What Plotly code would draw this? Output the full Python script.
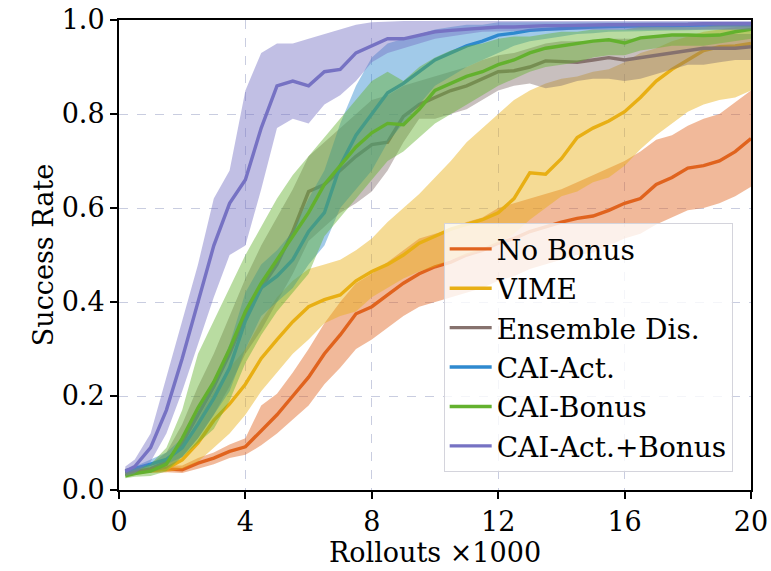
import plotly.graph_objects as go

x = [0.2, 0.5, 1.0, 1.5, 2.0, 2.5, 3.0, 3.5, 4.0, 4.5, 5.0, 5.5, 6.0, 6.5, 7.0, 7.5, 8.0, 8.5, 9.0, 9.5,
     10.0, 10.5, 11.0, 11.5, 12.0, 12.5, 13.0, 13.5, 14.0, 14.5, 15.0, 15.5, 16.0, 16.5, 17.0, 17.5, 18.0,
     18.5, 19.0, 19.5, 20.0]

names = ["No Bonus", "VIME", "Ensemble Dis.", "CAI-Act.", "CAI-Bonus", "CAI-Act.+Bonus"]
colors = ["#E0631E", "#E8AF14", "#86726E", "#2E89CF", "#63B12E", "#7672C3"]

no_bonus_mean = [0.04, 0.04, 0.042, 0.045, 0.043, 0.057, 0.068, 0.082, 0.092, 0.125, 0.16, 0.20, 0.24, 0.29,
                 0.33, 0.375, 0.39, 0.415, 0.44, 0.46, 0.475, 0.485, 0.50, 0.51, 0.525, 0.535, 0.55, 0.56,
                 0.57, 0.578, 0.583, 0.595, 0.61, 0.62, 0.65, 0.665, 0.685, 0.69, 0.70, 0.72, 0.748]
no_bonus_lo = [0.035, 0.035, 0.037, 0.038, 0.036, 0.045, 0.055, 0.068, 0.075, 0.095, 0.12, 0.15, 0.18, 0.225,
               0.26, 0.30, 0.32, 0.345, 0.37, 0.39, 0.40, 0.41, 0.42, 0.43, 0.445, 0.455, 0.47, 0.48, 0.49,
               0.50, 0.505, 0.52, 0.535, 0.545, 0.565, 0.58, 0.595, 0.60, 0.61, 0.625, 0.645]
no_bonus_hi = [0.045, 0.045, 0.047, 0.052, 0.052, 0.068, 0.08, 0.097, 0.11, 0.18, 0.205, 0.25, 0.30, 0.355,
               0.40, 0.44, 0.46, 0.485, 0.51, 0.535, 0.545, 0.555, 0.57, 0.58, 0.60, 0.61, 0.62, 0.63, 0.64,
               0.655, 0.67, 0.685, 0.70, 0.72, 0.745, 0.755, 0.775, 0.79, 0.80, 0.825, 0.85]

vime_mean = [0.04, 0.04, 0.042, 0.045, 0.064, 0.10, 0.148, 0.183, 0.225, 0.28, 0.32, 0.358, 0.39, 0.405,
             0.415, 0.445, 0.465, 0.48, 0.50, 0.525, 0.54, 0.555, 0.565, 0.575, 0.59, 0.62, 0.675, 0.672,
             0.705, 0.75, 0.77, 0.785, 0.805, 0.835, 0.87, 0.895, 0.915, 0.935, 0.943, 0.945, 0.95]
vime_lo = [0.035, 0.035, 0.036, 0.038, 0.045, 0.06, 0.09, 0.12, 0.16, 0.21, 0.25, 0.29, 0.32, 0.355, 0.37,
           0.38, 0.41, 0.43, 0.45, 0.465, 0.475, 0.49, 0.50, 0.51, 0.525, 0.545, 0.575, 0.60, 0.625, 0.635,
           0.655, 0.665, 0.69, 0.725, 0.755, 0.78, 0.805, 0.82, 0.83, 0.835, 0.85]
vime_hi = [0.045, 0.046, 0.05, 0.06, 0.09, 0.15, 0.21, 0.26, 0.30, 0.36, 0.41, 0.445, 0.47, 0.48, 0.49,
           0.51, 0.535, 0.57, 0.60, 0.63, 0.665, 0.70, 0.74, 0.77, 0.80, 0.83, 0.85, 0.865, 0.875, 0.88,
           0.89, 0.895, 0.91, 0.93, 0.94, 0.955, 0.965, 0.975, 0.98, 0.985, 0.99]

ens_mean = [0.035, 0.038, 0.045, 0.06, 0.10, 0.16, 0.22, 0.29, 0.37, 0.43, 0.48, 0.55, 0.635, 0.65, 0.68,
            0.71, 0.735, 0.74, 0.795, 0.82, 0.835, 0.85, 0.86, 0.875, 0.89, 0.892, 0.90, 0.913, 0.912, 0.91,
            0.915, 0.92, 0.915, 0.92, 0.925, 0.93, 0.935, 0.94, 0.94, 0.94, 0.943]
ens_lo = [0.03, 0.033, 0.038, 0.045, 0.07, 0.11, 0.16, 0.22, 0.29, 0.34, 0.40, 0.46, 0.53, 0.56, 0.59, 0.61,
          0.635, 0.68, 0.74, 0.79, 0.79, 0.80, 0.81, 0.83, 0.85, 0.86, 0.865, 0.855, 0.86, 0.87, 0.875,
          0.875, 0.87, 0.875, 0.885, 0.895, 0.905, 0.905, 0.91, 0.915, 0.915]
ens_hi = [0.04, 0.045, 0.055, 0.08, 0.14, 0.22, 0.29, 0.37, 0.45, 0.52, 0.58, 0.64, 0.71, 0.74, 0.77, 0.80,
          0.83, 0.84, 0.86, 0.87, 0.88, 0.89, 0.90, 0.915, 0.925, 0.93, 0.94, 0.95, 0.955, 0.955, 0.955,
          0.96, 0.96, 0.96, 0.965, 0.965, 0.97, 0.97, 0.97, 0.97, 0.97]

act_mean = [0.04, 0.045, 0.055, 0.065, 0.09, 0.14, 0.195, 0.26, 0.36, 0.43, 0.455, 0.49, 0.55, 0.59, 0.69,
            0.755, 0.80, 0.845, 0.865, 0.89, 0.915, 0.93, 0.945, 0.955, 0.968, 0.972, 0.978, 0.98, 0.982,
            0.984, 0.985, 0.986, 0.987, 0.987, 0.988, 0.988, 0.989, 0.99, 0.99, 0.99, 0.99]
act_lo = [0.035, 0.04, 0.048, 0.055, 0.07, 0.11, 0.16, 0.21, 0.30, 0.37, 0.40, 0.43, 0.48, 0.52, 0.60, 0.64,
          0.68, 0.74, 0.78, 0.82, 0.86, 0.88, 0.90, 0.915, 0.93, 0.945, 0.955, 0.96, 0.965, 0.97, 0.972,
          0.975, 0.975, 0.976, 0.977, 0.978, 0.978, 0.979, 0.98, 0.98, 0.98]
act_hi = [0.045, 0.05, 0.065, 0.08, 0.11, 0.17, 0.23, 0.31, 0.42, 0.48, 0.51, 0.55, 0.62, 0.68, 0.78, 0.86,
          0.92, 0.95, 0.96, 0.97, 0.98, 0.985, 0.99, 0.99, 0.995, 0.995, 0.995, 0.995, 0.995, 0.995, 0.995,
          0.995, 0.995, 0.995, 0.995, 0.995, 0.995, 0.995, 0.995, 0.995, 0.995]

bonus_mean = [0.03, 0.035, 0.04, 0.055, 0.11, 0.175, 0.23, 0.30, 0.38, 0.44, 0.49, 0.54, 0.59, 0.65, 0.69,
              0.73, 0.76, 0.78, 0.777, 0.81, 0.85, 0.865, 0.88, 0.89, 0.905, 0.915, 0.93, 0.94, 0.945, 0.95,
              0.955, 0.958, 0.951, 0.962, 0.965, 0.968, 0.968, 0.967, 0.968, 0.975, 0.98]
bonus_lo = [0.025, 0.028, 0.03, 0.04, 0.07, 0.10, 0.13, 0.19, 0.27, 0.33, 0.38, 0.42, 0.46, 0.54, 0.58, 0.62,
            0.66, 0.70, 0.72, 0.75, 0.78, 0.80, 0.82, 0.84, 0.86, 0.875, 0.89, 0.90, 0.905, 0.91, 0.92,
            0.925, 0.925, 0.935, 0.94, 0.945, 0.945, 0.945, 0.95, 0.955, 0.96]
bonus_hi = [0.04, 0.045, 0.055, 0.09, 0.17, 0.29, 0.36, 0.43, 0.50, 0.56, 0.62, 0.67, 0.71, 0.75, 0.79, 0.83,
            0.87, 0.89, 0.87, 0.90, 0.92, 0.935, 0.945, 0.95, 0.96, 0.965, 0.965, 0.97, 0.975, 0.975, 0.98,
            0.98, 0.98, 0.985, 0.985, 0.985, 0.985, 0.985, 0.99, 0.99, 0.99]

both_mean = [0.04, 0.05, 0.09, 0.17, 0.28, 0.40, 0.52, 0.61, 0.66, 0.77, 0.86, 0.87, 0.86, 0.89, 0.895, 0.93,
             0.945, 0.96, 0.96, 0.968, 0.975, 0.978, 0.98, 0.982, 0.985, 0.985, 0.987, 0.988, 0.988, 0.989,
             0.99, 0.99, 0.99, 0.99, 0.991, 0.991, 0.991, 0.992, 0.992, 0.992, 0.992]
both_lo = [0.03, 0.035, 0.06, 0.12, 0.21, 0.31, 0.41, 0.50, 0.52, 0.64, 0.77, 0.79, 0.78, 0.82, 0.84, 0.87,
           0.91, 0.93, 0.94, 0.95, 0.96, 0.965, 0.97, 0.975, 0.975, 0.976, 0.977, 0.978, 0.978, 0.979, 0.98,
           0.98, 0.98, 0.98, 0.98, 0.98, 0.98, 0.98, 0.98, 0.98, 0.98]
both_hi = [0.05, 0.065, 0.12, 0.24, 0.36, 0.48, 0.62, 0.68, 0.85, 0.93, 0.95, 0.95, 0.96, 0.97, 0.98, 0.99,
           0.995, 0.997, 0.998, 0.998, 0.998, 0.998, 0.998, 0.998, 0.998, 0.998, 0.998, 0.998, 0.998, 0.998,
           0.998, 0.998, 0.998, 0.998, 0.998, 0.998, 0.998, 0.998, 0.998, 0.998, 0.998]

series = [
    (no_bonus_mean, no_bonus_lo, no_bonus_hi),
    (vime_mean, vime_lo, vime_hi),
    (ens_mean, ens_lo, ens_hi),
    (act_mean, act_lo, act_hi),
    (bonus_mean, bonus_lo, bonus_hi),
    (both_mean, both_lo, both_hi),
]

x_ticks = [0, 4, 8, 12, 16, 20]
y_ticks = [0.0, 0.2, 0.4, 0.6, 0.8, 1.0]


def rgba(hex_color, a):
    h = hex_color.lstrip("#")
    r, g, b = int(h[0:2], 16), int(h[2:4], 16), int(h[4:6], 16)
    return f"rgba({r},{g},{b},{a})"


fig = go.Figure()
for name, color, (m, lo, hi) in zip(names, colors, series):
    fig.add_trace(go.Scatter(
        x=x + x[::-1], y=hi + lo[::-1], fill="toself", fillcolor=rgba(color, 0.45),
        line=dict(width=0), mode="lines", showlegend=False, hoverinfo="skip"))
    fig.add_trace(go.Scatter(
        x=x, y=m, mode="lines", name=name, line=dict(color=color, width=3.4)))

font_family = "DejaVu Serif"
fig.update_layout(
    template="none",
    width=771, height=571,
    margin=dict(l=119, r=20, t=20, b=81),
    paper_bgcolor="white", plot_bgcolor="white",
    font=dict(family=font_family, size=27, color="black"),
    legend=dict(
        x=0.971, y=0.038, xanchor="right", yanchor="bottom",
        bgcolor="rgba(255,255,255,0.8)", bordercolor="#d4d4dc", borderwidth=1,
        font=dict(family=font_family, size=28, color="black"),
        itemwidth=42, tracegroupgap=0,
    ),
    showlegend=True,
)
fig.update_xaxes(
    range=[0, 20], tickvals=x_ticks, ticktext=[str(t) for t in x_ticks],
    showline=True, linecolor="black", linewidth=2, mirror=True,
    ticks="outside", ticklen=7, tickwidth=2, tickcolor="black",
    showgrid=True, gridcolor="#c9cde0", griddash="dash", gridwidth=1.3,
    zeroline=False, automargin=False,
    title=dict(text="Rollouts ×1000", standoff=6, font=dict(size=27)),
)
fig.update_yaxes(
    range=[0, 1], tickvals=y_ticks, ticktext=[f"{t:.1f}" for t in y_ticks],
    showline=True, linecolor="black", linewidth=2, mirror=True,
    ticks="outside", ticklen=7, tickwidth=2, tickcolor="black",
    showgrid=True, gridcolor="#c9cde0", griddash="dash", gridwidth=1.3,
    zeroline=False, automargin=False,
    title=dict(text="Success Rate", standoff=0, font=dict(size=27)),
)

fig.write_html("out.html")
